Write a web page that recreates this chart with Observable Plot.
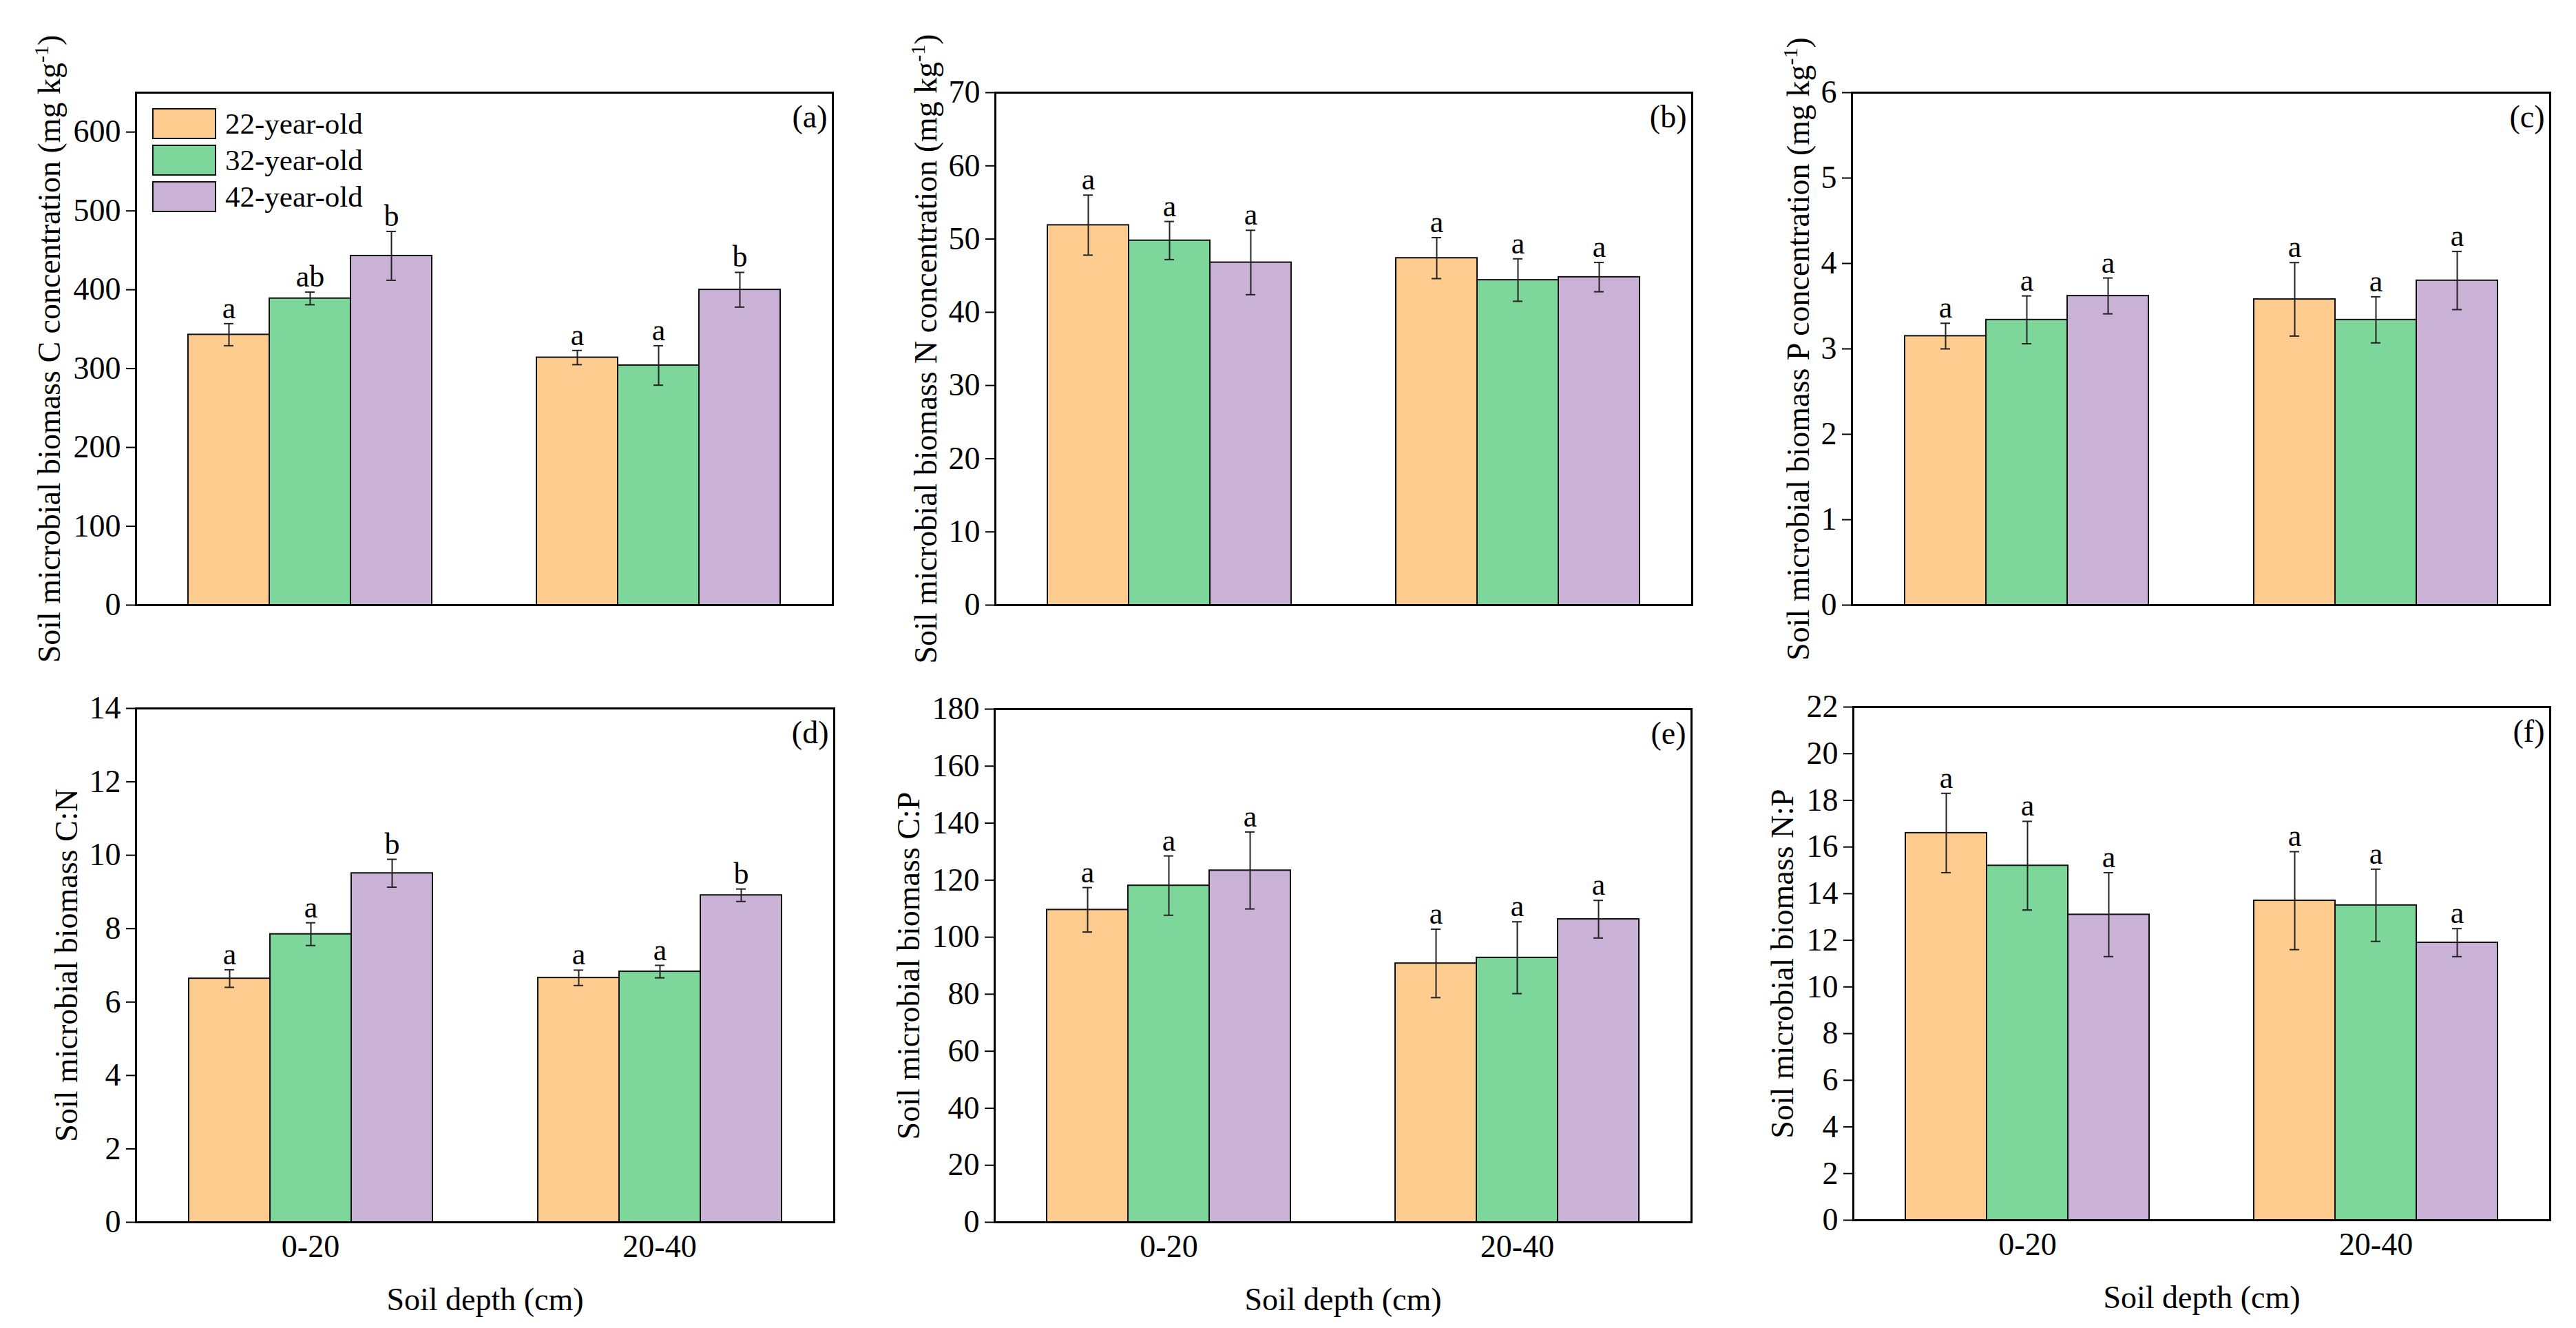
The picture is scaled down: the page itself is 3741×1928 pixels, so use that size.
<!DOCTYPE html>
<html>
<head>
<meta charset="utf-8">
<script src="https://cdn.jsdelivr.net/npm/d3@7"></script>
<script src="https://cdn.jsdelivr.net/npm/@observablehq/plot@0.6"></script>
<style>
  body { margin: 0; background: #fff; }
  #fig { position: relative; width: 3741px; height: 1928px; background: #fff; overflow: hidden;
         font-family: "Liberation Serif", "Times New Roman", serif; }
  .panel { position: absolute; }
  .legend { position: absolute; left: 221px; top: 157px; }
  .legend .row { display: flex; align-items: center; height: 45px; margin-bottom: 8px; }
  .legend .sw { width: 89px; height: 41px; border: 2px solid #111; }
  .legend .lab { margin-left: 13px; font-size: 43px; color: #000; white-space: nowrap; }
</style>
</head>
<body>
<div id="fig"></div>
<script>
// ---------- data ----------
const depths = ["0-20", "20-40"];
const ages = ["22-year-old", "32-year-old", "42-year-old"];
const ageColors = ["#FFCC8F", "#7DD69A", "#C9B2D6"];

// values ordered: 0-20 (22, 32, 42), then 20-40 (22, 32, 42)
const mbcMean = [343, 389, 443, 314, 304, 400];
const mbcErr = [14, 8, 31, 9, 25, 22];
const mbcLetters = ["a", "ab", "b", "a", "a", "b"];
const mbcTicks = [0, 100, 200, 300, 400, 500, 600];

const mbnMean = [51.9, 49.8, 46.8, 47.4, 44.4, 44.8];
const mbnErr = [4.1, 2.6, 4.4, 2.8, 2.9, 2.0];
const mbnLetters = ["a", "a", "a", "a", "a", "a"];
const mbnTicks = [0, 10, 20, 30, 40, 50, 60, 70];

const mbpMean = [3.15, 3.34, 3.62, 3.58, 3.34, 3.80];
const mbpErr = [0.15, 0.28, 0.21, 0.43, 0.27, 0.34];
const mbpLetters = ["a", "a", "a", "a", "a", "a"];
const mbpTicks = [0, 1, 2, 3, 4, 5, 6];

const cnMean = [6.64, 7.85, 9.51, 6.66, 6.83, 8.91];
const cnErr = [0.24, 0.31, 0.38, 0.21, 0.17, 0.17];
const cnLetters = ["a", "a", "b", "a", "a", "b"];
const cnTicks = [0, 2, 4, 6, 8, 10, 12, 14];

const cpMean = [109.6, 118.1, 123.4, 90.8, 92.8, 106.3];
const cpErr = [7.8, 10.4, 13.5, 12.0, 12.6, 6.6];
const cpLetters = ["a", "a", "a", "a", "a", "a"];
const cpTicks = [0, 20, 40, 60, 80, 100, 120, 140, 160, 180];

const npMean = [16.6, 15.2, 13.1, 13.7, 13.5, 11.9];
const npErr = [1.7, 1.9, 1.8, 2.1, 1.55, 0.6];
const npLetters = ["a", "a", "a", "a", "a", "a"];
const npTicks = [0, 2, 4, 6, 8, 10, 12, 14, 16, 18, 20, 22];

const yLabels = [
  "Soil microbial biomass C concentration (mg kg-1)",
  "Soil microbial biomass N concentration (mg kg-1)",
  "Soil microbial biomass P concentration (mg kg-1)",
  "Soil microbial biomass C:N",
  "Soil microbial biomass C:P",
  "Soil microbial biomass N:P"
];
const tags = ["(a)", "(b)", "(c)", "(d)", "(e)", "(f)"];
const yMax = [650, 70, 6, 14, 180, 22];
const xLabel = "Soil depth (cm)";

// ---------- layout ----------
const panels = [
  {mean: mbcMean, err: mbcErr, letters: mbcLetters, ticks: mbcTicks, left: 0,    top: 0,   mt: 134, mb: 86,  ml: 197, mr: 38, ldx: -125, bottom: false},
  {mean: mbnMean, err: mbnErr, letters: mbnLetters, ticks: mbnTicks, left: 1247, top: 0,   mt: 134, mb: 86,  ml: 197, mr: 37, ldx: -100, bottom: false},
  {mean: mbpMean, err: mbpErr, letters: mbpLetters, ticks: mbpTicks, left: 2494, top: 0,   mt: 134, mb: 86,  ml: 195, mr: 38, ldx: -77,  bottom: false},
  {mean: cnMean,  err: cnErr,  letters: cnLetters,  ticks: cnTicks,  left: 0,    top: 964, mt: 64,  mb: 154, ml: 197, mr: 36, ldx: -100, bottom: true},
  {mean: cpMean,  err: cpErr,  letters: cpLetters,  ticks: cpTicks,  left: 1247, top: 964, mt: 65,  mb: 154, ml: 197, mr: 38, ldx: -124, bottom: true},
  {mean: npMean,  err: npErr,  letters: npLetters,  ticks: npTicks,  left: 2494, top: 964, mt: 62,  mb: 157, ml: 196, mr: 38, ldx: -102, bottom: true}
];

const fig = document.getElementById("fig");
const SVGNS = "http://www.w3.org/2000/svg";

panels.forEach((p, k) => {
  const rows = [];
  depths.forEach((d, di) => ages.forEach((a, ai) => {
    const i = di * 3 + ai;
    rows.push({depth: d, age: a, mean: p.mean[i], err: p.err[i], letter: p.letters[i]});
  }));
  const hi = r => r.mean + r.err;
  const lo = r => r.mean - r.err;

  const chart = Plot.plot({
    width: 1247,
    height: 964,
    marginTop: p.mt,
    marginBottom: p.mb,
    marginLeft: p.ml,
    marginRight: p.mr,
    style: {fontFamily: "'Liberation Serif', 'Times New Roman', serif", fontSize: "46px", background: "transparent", color: "#000", overflow: "visible"},
    fx: p.bottom
      ? {domain: depths, padding: 0, axis: "bottom", tickSize: 0, tickPadding: 18, label: xLabel, labelAnchor: "center", labelOffset: 127}
      : {domain: depths, padding: 0, axis: null},
    x: {domain: ages, paddingInner: 0, paddingOuter: 0.644, axis: null},
    y: {domain: [0, yMax[k]], axis: null},
    color: {domain: ages, range: ageColors},
    marks: [
      Plot.barY(rows, {fx: "depth", x: "age", y: "mean", fill: "age", stroke: "#111", strokeWidth: 2}),
      Plot.ruleX(rows, {fx: "depth", x: "age", y1: lo, y2: hi, stroke: "#222", strokeWidth: 2}),
      Plot.tickY(rows, {fx: "depth", x: "age", y: hi, insetLeft: 52, insetRight: 52, stroke: "#222", strokeWidth: 2}),
      Plot.tickY(rows, {fx: "depth", x: "age", y: lo, insetLeft: 52, insetRight: 52, stroke: "#222", strokeWidth: 2}),
      Plot.text(rows, {fx: "depth", x: "age", y: hi, text: "letter", lineAnchor: "bottom", dy: -8, fontSize: 44}),
      Plot.axisY({ticks: p.ticks, tickFormat: d => String(d), tickSize: 14, tickPadding: 8, strokeWidth: 2, label: null, fontSize: 46}),
      Plot.frame({stroke: "#000", strokeWidth: 3, facet: "super"}),
      Plot.text([tags[k]], {frameAnchor: "top-right", textAnchor: "end", lineAnchor: "bottom", dx: -8, dy: 50, fontSize: 46, facet: "super"}),
      Plot.text([yLabels[k]], {frameAnchor: "left", textAnchor: "middle", lineAnchor: "middle", rotate: -90, dx: p.ldx, fontSize: 46, facet: "super"})
    ]
  });

  // superscript for "kg-1"
  chart.querySelectorAll("text").forEach(t => {
    const s = t.textContent;
    if (s.includes("kg-1)") && t.children.length === 0) {
      const base = s.replace("-1)", "");
      t.textContent = "";
      t.appendChild(document.createTextNode(base));
      const sup = document.createElementNS(SVGNS, "tspan");
      sup.setAttribute("font-size", "30");
      sup.setAttribute("dy", "-17");
      sup.textContent = "-1";
      t.appendChild(sup);
      const close = document.createElementNS(SVGNS, "tspan");
      close.setAttribute("dy", "17");
      close.textContent = ")";
      t.appendChild(close);
    }
  });

  const div = document.createElement("div");
  div.className = "panel";
  div.style.left = p.left + "px";
  div.style.top = p.top + "px";
  div.appendChild(chart);

  if (k === 0) {
    const leg = document.createElement("div");
    leg.className = "legend";
    ages.forEach((a, i) => {
      const row = document.createElement("div");
      row.className = "row";
      const sw = document.createElement("div");
      sw.className = "sw";
      sw.style.background = ageColors[i];
      const lab = document.createElement("div");
      lab.className = "lab";
      lab.textContent = a;
      row.appendChild(sw);
      row.appendChild(lab);
      leg.appendChild(row);
    });
    div.appendChild(leg);
  }
  fig.appendChild(div);
});
</script>
</body>
</html>
